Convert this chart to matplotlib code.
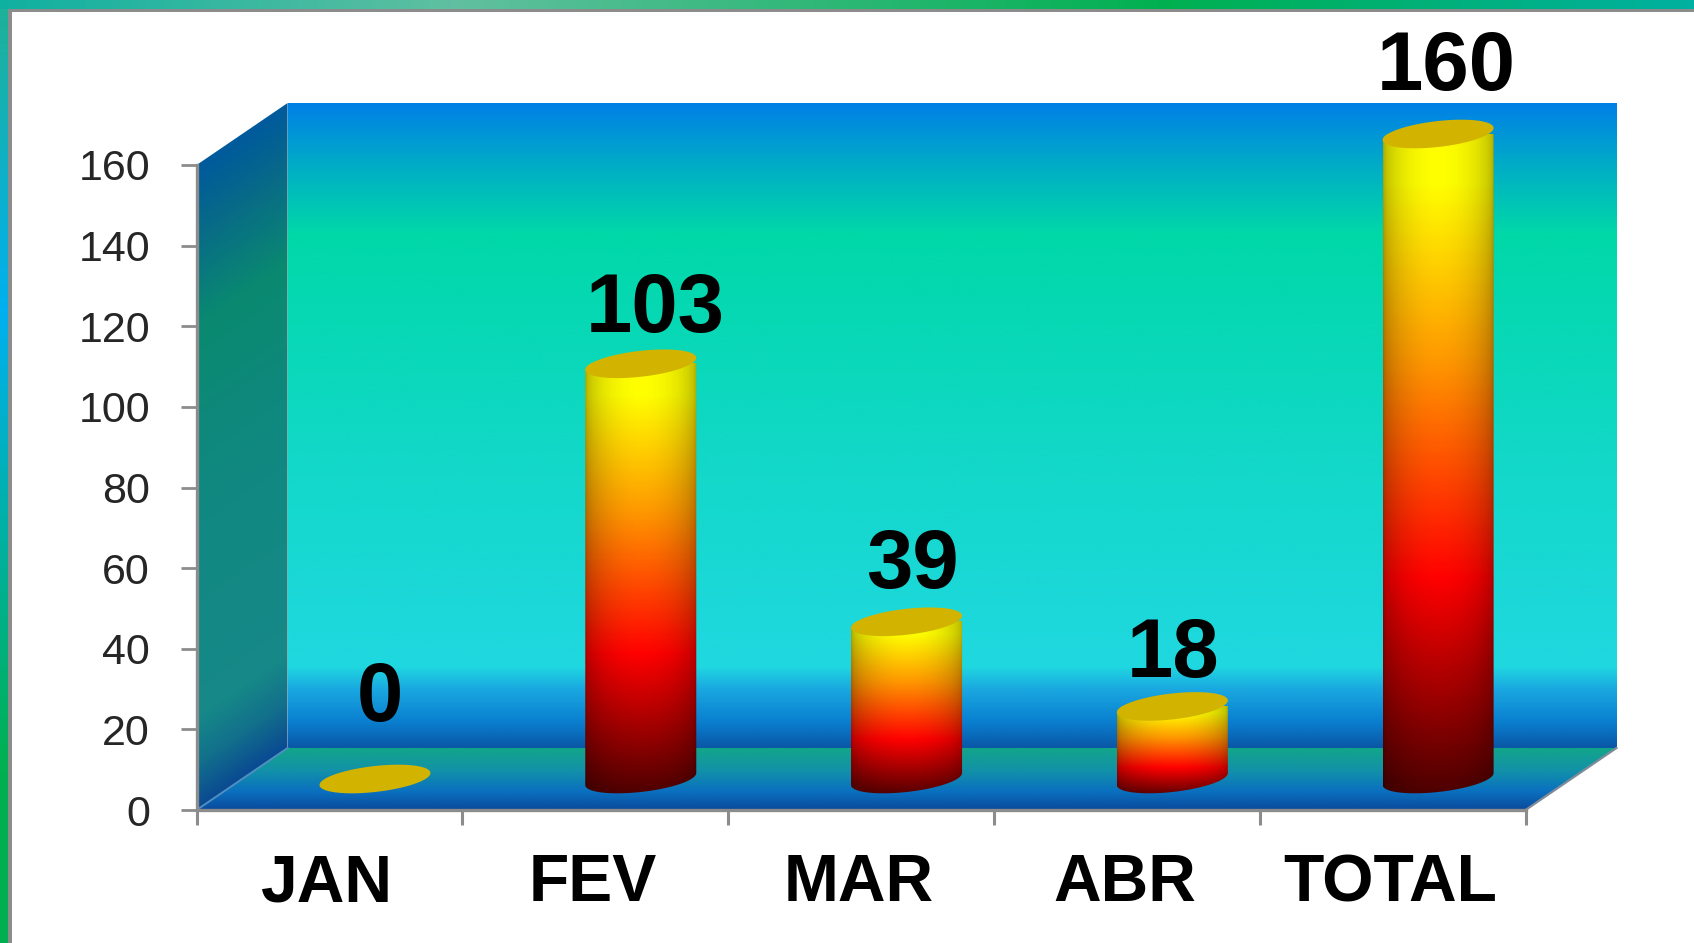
import numpy as np
import matplotlib
matplotlib.use("Agg")
import matplotlib.pyplot as plt
from matplotlib.colors import LinearSegmentedColormap
from matplotlib.patches import PathPatch, Polygon
from matplotlib.path import Path

plt.rcParams['font.family'] = ['Liberation Sans', 'DejaVu Sans']

# chart values
months = ["JAN", "FEV", "MAR", "ABR", "TOTAL"]
counts = [0, 103, 39, 18, 160]
y_ticks = [0, 20, 40, 60, 80, 100, 120, 140, 160]

# nudges for the value labels, in pixels from the top of each cylinder
label_dx = [5, 14, 6, 1, 8]
label_dy = [80, 54, 56, 51, 66]

W, H = 1694, 943
fig = plt.figure(figsize=(W / 100, H / 100), dpi=100, facecolor="white")

# slide border behind the chart
bg = fig.add_axes([0, 0, 1, 1], zorder=-1)
bg.axis("off")
left_cmap = LinearSegmentedColormap.from_list("l", [(0, "#1fb096"), (0.33, "#00b0f0"), (0.82, "#00b050"), (1, "#00b050")])
top_cmap = LinearSegmentedColormap.from_list("t", [(0, "#10b0a0"), (0.27, "#60c0a0"), (0.69, "#00b050"), (1, "#00b0a0")])
bg.imshow(np.linspace(0, 1, 256)[:, None], cmap=left_cmap, extent=(0, 8, H, 0), aspect="auto")
bg.imshow(np.linspace(0, 1, 512)[None, :], cmap=top_cmap, extent=(0, W, 9, 0), aspect="auto")
bg.add_patch(plt.Rectangle((8, 9), 4, H, color="#8c8c8c", lw=0))
bg.add_patch(plt.Rectangle((8, 9), W, 3, color="#8c8c8c", lw=0))
bg.set_xlim(0, W)
bg.set_ylim(H, 0)

# the front plane of the 3d box is the real axes
x0, x1 = 196.6, 1525.5
y_top, y_bot = 165, 810
ax = fig.add_axes([x0 / W, 1 - y_bot / H, (x1 - x0) / W, (y_bot - y_top) / H])
ax.patch.set_alpha(0)

px_x = len(months) / (x1 - x0)
px_y = 160 / (y_bot - y_top)
depth_x = 91 * px_x
depth_y = 62 * px_y


def clipped(im, pts):
    clip = PathPatch(Path(pts), transform=ax.transData, fc="none", ec="none")
    im.set_clip_path(clip)
    im.set_clip_box(fig.bbox)


back_cmap = LinearSegmentedColormap.from_list("b", [
    (0, "#0a58a8"), (0.04, "#0a80d0"), (0.09, "#1aa8e0"), (0.125, "#20d8e0"),
    (0.45, "#12d8c8"), (0.80, "#00d8a8"), (0.91, "#00aac8"), (1, "#0080e6")])
side_cmap = LinearSegmentedColormap.from_list("s", [
    (0, "#0a4a92"), (0.07, "#12708c"), (0.14, "#168888"), (0.5, "#108880"),
    (0.75, "#0a8a70"), (0.9, "#086a88"), (1, "#005a9c")])
floor_cmap = LinearSegmentedColormap.from_list("f", [
    (0, "#0a4a9c"), (0.3, "#0a70c0"), (0.65, "#1292a8"), (1, "#12a58a")])

# back wall
ax.imshow(np.linspace(1, 0, 256)[:, None], cmap=back_cmap, vmin=0, vmax=1, aspect="auto", zorder=0.1,
          extent=(depth_x, len(months) + depth_x, depth_y, 160 + depth_y), clip_on=False)

# side wall, colour follows the slant of the box
u = np.linspace(0, 1, 120)
yy = np.linspace(160 + depth_y, 0, 500)
uu, yg = np.meshgrid(u, yy)
im = ax.imshow(np.clip((yg - uu * depth_y) / 160, 0, 1), cmap=side_cmap, vmin=0, vmax=1, aspect="auto",
               zorder=0.2, extent=(0, depth_x, 0, 160 + depth_y))
clipped(im, [(0, 0), (depth_x, depth_y), (depth_x, 160 + depth_y), (0, 160), (0, 0)])

# floor
im = ax.imshow(np.linspace(1, 0, 128)[:, None], cmap=floor_cmap, vmin=0, vmax=1, aspect="auto", zorder=0.3,
               extent=(0, len(months) + depth_x, 0, depth_y))
clipped(im, [(0, 0), (len(months), 0), (len(months) + depth_x, depth_y), (depth_x, depth_y), (0, 0)])
ax.plot([len(months), len(months) + depth_x], [0, depth_y], color="#7f8c98", lw=1.6, clip_on=False, zorder=0.4)
ax.plot([0, depth_x], [0, depth_y], color="#4f8fc0", lw=1.4, clip_on=False, zorder=0.4)

# cylinders
radius_x = 55.5 * px_x
cap_b = 13 * px_y
cap_s = 6 * px_y
bar_cmap = LinearSegmentedColormap.from_list("c", [
    (0, "#ffff00"), (0.07, "#ffff00"), (0.34, "#ff9800"), (0.67, "#ff0000"), (1, "#4a0000")])
shade = 0.66 + 0.34 * np.sin(np.pi * np.linspace(0, 1, 80)) ** 0.5
t = np.linspace(0, np.pi, 60)

for i, v in enumerate(counts):
    cx = i + 0.5 + depth_x / 2
    base = depth_y / 2
    top = base + v
    if v > 0:
        bottom_edge = np.c_[cx + radius_x * np.cos(-t), base + cap_b * np.sin(-t) + cap_s * np.cos(-t)]
        top_edge = np.c_[cx + radius_x * np.cos(t[::-1]), top + cap_b * np.sin(t[::-1]) + cap_s * np.cos(t[::-1])]
        outline = np.vstack([bottom_edge, top_edge, bottom_edge[:1]])
        rows = bar_cmap(np.linspace(0, 1, 300))[:, :3]
        rgb = rows[:, None, :] * shade[None, :, None]
        im = ax.imshow(rgb, aspect="auto", zorder=1 + i * 0.01,
                       extent=(cx - radius_x, cx + radius_x, base - cap_b - cap_s, top))
        clipped(im, outline)
    s = np.linspace(0, 2 * np.pi, 120)
    ax.add_patch(Polygon(np.c_[cx + radius_x * np.cos(s), top + cap_b * np.sin(s) + cap_s * np.cos(s)],
                         closed=True, fc="#d2b400", ec="none", zorder=1.5, clip_on=False))
    ax.annotate(str(v), xy=(cx, top), xytext=(label_dx[i] * 0.72, label_dy[i] * 0.72), textcoords="offset points",
                ha="center", va="center", fontsize=60, fontweight="bold", color="black",
                annotation_clip=False, zorder=3)

ax.set_xlim(0, len(months))
ax.set_ylim(0, 160)

# axes
for side in ["top", "right"]:
    ax.spines[side].set_visible(False)
for side in ["left", "bottom"]:
    ax.spines[side].set_color("#8c8c8c")
    ax.spines[side].set_linewidth(2.4)
ax.set_yticks(y_ticks)
ax.set_yticklabels([str(y) for y in y_ticks])
ax.tick_params(axis="y", length=11.5, width=2, color="#8c8c8c", pad=22, labelsize=31, labelcolor="#262626")
ax.set_xticks(np.arange(len(months) + 1))
ax.set_xticklabels([])
ax.tick_params(axis="x", which="major", length=11, width=2.2, color="#8c8c8c")
ax.set_xticks(np.arange(len(months)) + 0.5 - 0.008, minor=True)
ax.set_xticklabels(months, minor=True, fontsize=47.5, fontweight="bold", color="black")
ax.tick_params(axis="x", which="minor", length=0, pad=31)

fig.savefig("out.png", dpi=100)
